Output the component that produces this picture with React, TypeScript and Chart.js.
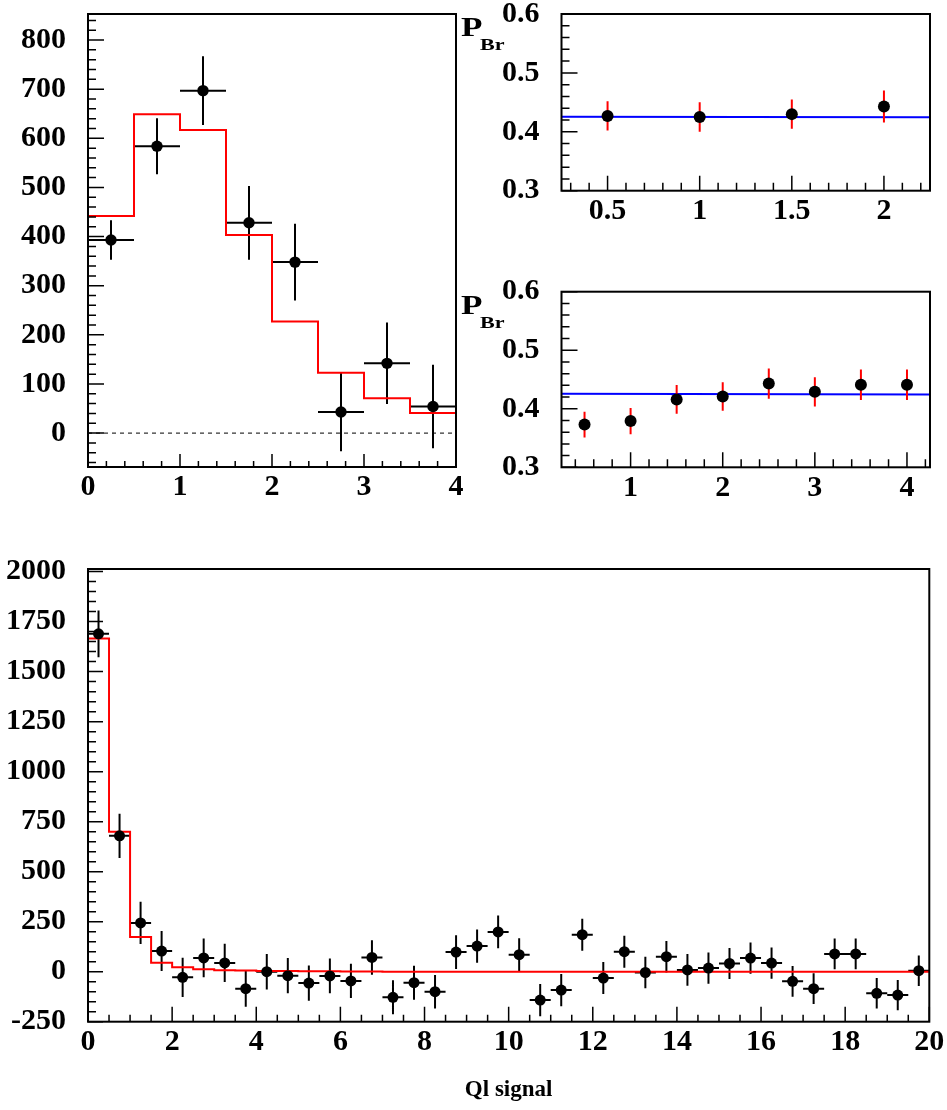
import React, { useEffect, useRef } from "react";
import { Chart, registerables } from "chart.js";

Chart.register(...registerables);

// ---------------- Top-left panel ----------------
const TL_CENTERS = [0.25, 0.75, 1.25, 1.75, 2.25, 2.75, 3.25, 3.75];
const TL_DATA = [393, 584, 697, 428, 348, 43, 142, 54];
const TL_ERR = [40, 57, 70, 75, 78, 80, 83, 85];
const TL_MODEL = [442, 649, 617, 403, 227, 123, 71, 41];
const TL_X_TICKS = [0, 1, 2, 3, 4];
const TL_Y_TICKS = [0, 100, 200, 300, 400, 500, 600, 700, 800];

// ---------------- Top-right panel 1 ----------------
const TR1_X = [0.5, 1, 1.5, 2];
const TR1_P = [0.427, 0.425, 0.43, 0.443];
const TR1_ERR = [0.025, 0.025, 0.025, 0.027];
const TR1_FIT_X = [0.25, 2.25];
const TR1_FIT_Y = [0.4255, 0.4245];
const TR1_X_TICKS = [0.5, 1, 1.5, 2];

// ---------------- Top-right panel 2 ----------------
const TR2_X = [0.5, 1, 1.5, 2, 2.5, 3, 3.5, 4];
const TR2_P = [0.373, 0.379, 0.416, 0.421, 0.443, 0.429, 0.441, 0.441];
const TR2_ERR = [0.022, 0.0225, 0.0245, 0.0245, 0.026, 0.025, 0.026, 0.026];
const TR2_FIT_X = [0.25, 4.25];
const TR2_FIT_Y = [0.4255, 0.4245];
const TR2_X_TICKS = [1, 2, 3, 4];
const TR_Y_TICKS = [0.3, 0.4, 0.5, 0.6];

// ---------------- Bottom panel ----------------
const B_CENTERS = [
  0.25, 0.75, 1.25, 1.75, 2.25, 2.75, 3.25, 3.75, 4.25, 4.75,
  5.25, 5.75, 6.25, 6.75, 7.25, 7.75, 8.25, 8.75, 9.25, 9.75,
  10.25, 10.75, 11.25, 11.75, 12.25, 12.75, 13.25, 13.75, 14.25, 14.75,
  15.25, 15.75, 16.25, 16.75, 17.25, 17.75, 18.25, 18.75, 19.25, 19.75,
];
const B_DATA = [
  1689, 679, 244, 103, -28, 69, 44, -85, 0, -20,
  -57, -21, -46, 71, -128, -55, -100, 98, 128, 199,
  85, -142, -92, 185, -32, 100, -4, 75, 9, 18,
  41, 68, 43, -48, -85, 89, 89, -108, -117, 5,
];
const B_ERR = [
  117, 111, 105, 100, 98, 97, 96, 90, 89, 88,
  88, 87, 86, 86, 85, 85, 84, 84, 83, 82,
  82, 81, 81, 80, 80, 80, 79, 79, 79, 78,
  78, 78, 78, 77, 77, 77, 77, 76, 76, 76,
];
const B_MODEL = [
  1666, 699, 174, 45, 22, 12, 7, 6, 4, 4,
  2, 2, 1, 1, 0, 0, 0, 0, 0, 0,
  0, 0, 0, 0, 0, 0, 0, 0, 0, 0,
  0, 0, 0, 0, 0, 0, 0, 0, 0, 0,
];
const B_X_TICKS = [0, 2, 4, 6, 8, 10, 12, 14, 16, 18, 20];
const B_Y_TICKS = [-250, 0, 250, 500, 750, 1000, 1250, 1500, 1750, 2000];

// ---------------- helpers ----------------
const FONT_FAMILY = '"Liberation Serif", "Times New Roman", Times, serif';
const RED = "#ff0000";
const BLUE = "#0000ff";

type Pt = { x: number; y: number | null };

function vErrPoints(xs: number[], ys: number[], es: number[]): Pt[] {
  const pts: Pt[] = [];
  xs.forEach((x, i) => {
    pts.push({ x, y: ys[i] - es[i] });
    pts.push({ x, y: ys[i] + es[i] });
    pts.push({ x, y: null });
  });
  return pts;
}

function hErrPoints(xs: number[], ys: number[], half: number): Pt[] {
  const pts: Pt[] = [];
  xs.forEach((x, i) => {
    pts.push({ x: x - half, y: ys[i] });
    pts.push({ x: x + half, y: ys[i] });
    pts.push({ x: x + half, y: null });
  });
  return pts;
}

function histPoints(centers: number[], vals: number[], half: number): Pt[] {
  const pts: Pt[] = [{ x: centers[0] - half, y: 0 }];
  centers.forEach((c, i) => {
    pts.push({ x: c - half, y: vals[i] });
    pts.push({ x: c + half, y: vals[i] });
  });
  pts.push({ x: centers[centers.length - 1] + half, y: 0 });
  return pts;
}

function markerPoints(xs: number[], ys: number[]): Pt[] {
  return xs.map((x, i) => ({ x, y: ys[i] }));
}

const lineDs = (data: Pt[], color: string, width: number, order: number, dash?: number[]) => ({
  data,
  borderColor: color,
  borderWidth: width,
  borderDash: dash || [],
  pointRadius: 0,
  pointHoverRadius: 0,
  fill: false,
  tension: 0,
  spanGaps: false,
  order,
});

const markerDs = (data: Pt[], r: number) => ({
  data,
  showLine: false,
  pointRadius: r,
  pointHoverRadius: r,
  pointBackgroundColor: "#000",
  pointBorderColor: "#000",
  pointBorderWidth: 0,
  order: 0,
});

// frame + inward ROOT-like ticks
const rootFrame = {
  id: "rootFrame",
  afterDatasetsDraw(chart: any, _args: any, opts: any) {
    const { ctx, chartArea: a, scales } = chart;
    const xs = scales.x;
    const ys = scales.y;
    ctx.save();
    ctx.strokeStyle = "#000";
    ctx.lineWidth = 1.5;
    ctx.beginPath();
    const drawTicks = (scale: any, step: number, len: number, horiz: boolean) => {
      const k0 = Math.ceil(scale.min / step - 1e-6);
      const k1 = Math.floor(scale.max / step + 1e-6);
      for (let k = k0; k <= k1; k++) {
        const p = scale.getPixelForValue(k * step);
        if (horiz) {
          ctx.moveTo(p, a.bottom);
          ctx.lineTo(p, a.bottom - len);
        } else {
          ctx.moveTo(a.left, p);
          ctx.lineTo(a.left + len, p);
        }
      }
    };
    drawTicks(xs, opts.xMinor, opts.xMinorLen, true);
    drawTicks(xs, opts.xMajor, opts.xMajorLen, true);
    drawTicks(ys, opts.yMinor, opts.yMinorLen, false);
    drawTicks(ys, opts.yMajor, opts.yMajorLen, false);
    ctx.stroke();
    ctx.lineWidth = 2;
    ctx.strokeRect(a.left, a.top, a.right - a.left, a.bottom - a.top);
    ctx.restore();
  },
};

type PanelCfg = {
  left: number;
  top: number;
  w: number;
  h: number;
  area: { l: number; t: number; r: number; b: number };
  padBottom: number;
  x: { min: number; max: number; ticks: number[]; major: number; minor: number; majorLen: number; minorLen: number };
  y: { min: number; max: number; ticks: number[]; major: number; minor: number; majorLen: number; minorLen: number };
  datasets: any[];
  title?: string;
  fontSize: number;
};

const tickFont = (size: number) => ({ family: FONT_FAMILY, size, weight: "bold" as const, lineHeight: 1.2 });

function buildConfig(c: PanelCfg): any {
  const yW = c.area.l - c.left;
  const xH = c.top + c.h - c.padBottom - c.area.b;
  return {
    type: "line",
    data: { datasets: c.datasets },
    options: {
      animation: false,
      responsive: false,
      maintainAspectRatio: false,
      events: [],
      layout: {
        padding: {
          left: 0,
          top: c.area.t - c.top,
          right: c.left + c.w - c.area.r,
          bottom: c.padBottom,
        },
      },
      plugins: {
        legend: { display: false },
        tooltip: { enabled: false },
        rootFrame: {
          xMajor: c.x.major,
          xMinor: c.x.minor,
          xMajorLen: c.x.majorLen,
          xMinorLen: c.x.minorLen,
          yMajor: c.y.major,
          yMinor: c.y.minor,
          yMajorLen: c.y.majorLen,
          yMinorLen: c.y.minorLen,
        },
      },
      scales: {
        x: {
          type: "linear",
          min: c.x.min,
          max: c.x.max,
          grid: { display: false, drawTicks: false },
          border: { display: false },
          afterBuildTicks: (s: any) => {
            s.ticks = c.x.ticks.map((v) => ({ value: v }));
          },
          afterFit: (s: any) => {
            s.height = xH;
            s.paddingLeft = 0;
            s.paddingRight = 0;
            s.paddingTop = 0;
            s.paddingBottom = 0;
          },
          ticks: {
            autoSkip: false,
            maxRotation: 0,
            minRotation: 0,
            padding: 2.5,
            color: "#000",
            font: tickFont(c.fontSize),
            callback: (v: number) => String(v),
          },
          title: c.title
            ? {
                display: true,
                text: c.title,
                color: "#000",
                padding: 0,
                font: { family: FONT_FAMILY, size: 23, weight: "bold", lineHeight: 1.2 },
              }
            : { display: false },
        },
        y: {
          type: "linear",
          min: c.y.min,
          max: c.y.max,
          grid: { display: false, drawTicks: false },
          border: { display: false },
          afterBuildTicks: (s: any) => {
            s.ticks = c.y.ticks.map((v) => ({ value: v }));
          },
          afterFit: (s: any) => {
            s.width = yW;
            s.paddingLeft = 0;
            s.paddingRight = 0;
            s.paddingTop = 0;
            s.paddingBottom = 0;
          },
          ticks: {
            autoSkip: false,
            padding: 22,
            color: "#000",
            font: tickFont(c.fontSize),
            callback: (v: number) => String(v),
          },
        },
      },
    },
    plugins: [rootFrame],
  };
}

function Panel({ cfg }: { cfg: PanelCfg }) {
  const ref = useRef<HTMLCanvasElement | null>(null);
  useEffect(() => {
    if (!ref.current) return;
    const chart = new Chart(ref.current, buildConfig(cfg));
    return () => chart.destroy();
  }, [cfg]);
  return (
    <canvas
      ref={ref}
      width={cfg.w}
      height={cfg.h}
      style={{ position: "absolute", left: cfg.left, top: cfg.top, width: cfg.w, height: cfg.h }}
    />
  );
}

// ---------------- panel configs ----------------
const TL_CFG: PanelCfg = {
  left: 0,
  top: 0,
  w: 470,
  h: 520,
  area: { l: 88, t: 14, r: 456, b: 467 },
  padBottom: 0,
  fontSize: 30,
  x: { min: 0, max: 4, ticks: TL_X_TICKS, major: 1, minor: 0.2, majorLen: 13, minorLen: 6 },
  y: { min: -69, max: 853, ticks: TL_Y_TICKS, major: 100, minor: 20, majorLen: 16, minorLen: 8 },
  datasets: [
    lineDs([{ x: 0, y: 0 }, { x: 4, y: 0 }], "#000", 1, 4, [4, 4]),
    lineDs(vErrPoints(TL_CENTERS, TL_DATA, TL_ERR), "#000", 2, 3),
    lineDs(hErrPoints(TL_CENTERS, TL_DATA, 0.25), "#000", 2, 3),
    lineDs(histPoints(TL_CENTERS, TL_MODEL, 0.25), RED, 2, 1),
    markerDs(markerPoints(TL_CENTERS, TL_DATA), 5.7),
  ],
};

const TR1_CFG: PanelCfg = {
  left: 470,
  top: 0,
  w: 477,
  h: 240,
  area: { l: 561.5, t: 14, r: 930, b: 190.7 },
  padBottom: 0,
  fontSize: 30,
  x: { min: 0.25, max: 2.25, ticks: TR1_X_TICKS, major: 0.5, minor: 0.1, majorLen: 15, minorLen: 8 },
  y: { min: 0.3, max: 0.6, ticks: TR_Y_TICKS, major: 0.1, minor: 0.02, majorLen: 16, minorLen: 8 },
  datasets: [
    lineDs(markerPoints(TR1_FIT_X, TR1_FIT_Y), BLUE, 2, 2),
    lineDs(vErrPoints(TR1_X, TR1_P, TR1_ERR), RED, 2, 1),
    markerDs(markerPoints(TR1_X, TR1_P), 6),
  ],
};

const TR2_CFG: PanelCfg = {
  left: 470,
  top: 250,
  w: 477,
  h: 270,
  area: { l: 561.5, t: 291.7, r: 930, b: 467.3 },
  padBottom: 0,
  fontSize: 30,
  x: { min: 0.25, max: 4.25, ticks: TR2_X_TICKS, major: 1, minor: 0.2, majorLen: 15, minorLen: 8 },
  y: { min: 0.3, max: 0.6, ticks: TR_Y_TICKS, major: 0.1, minor: 0.02, majorLen: 16, minorLen: 8 },
  datasets: [
    lineDs(markerPoints(TR2_FIT_X, TR2_FIT_Y), BLUE, 2, 2),
    lineDs(vErrPoints(TR2_X, TR2_P, TR2_ERR), RED, 2, 1),
    markerDs(markerPoints(TR2_X, TR2_P), 6),
  ],
};

const B_CFG: PanelCfg = {
  left: 0,
  top: 530,
  w: 947,
  h: 580,
  area: { l: 88, t: 569, r: 929.3, b: 1021.7 },
  padBottom: 5.9,
  fontSize: 30,
  title: "Ql signal",
  x: { min: 0, max: 20, ticks: B_X_TICKS, major: 2, minor: 0.5, majorLen: 15, minorLen: 7 },
  y: { min: -250, max: 2013, ticks: B_Y_TICKS, major: 250, minor: 50, majorLen: 15, minorLen: 8 },
  datasets: [
    lineDs(vErrPoints(B_CENTERS, B_DATA, B_ERR), "#000", 2, 3),
    lineDs(hErrPoints(B_CENTERS, B_DATA, 0.25), "#000", 2, 3),
    lineDs(histPoints(B_CENTERS, B_MODEL, 0.25), RED, 2, 1),
    markerDs(markerPoints(B_CENTERS, B_DATA), 5.5),
  ],
};

const labelStyle = (left: number, top: number, size: number, sx: number): React.CSSProperties => ({
  position: "absolute",
  left,
  top,
  fontFamily: FONT_FAMILY,
  fontWeight: "bold",
  fontSize: size,
  lineHeight: `${size}px`,
  color: "#000",
  whiteSpace: "nowrap",
  transform: `scaleX(${sx})`,
  transformOrigin: "left top",
});

export default function App() {
  return (
    <div
      style={{
        position: "absolute",
        left: 0,
        top: 0,
        width: 947,
        height: 1110,
        background: "#fff",
        overflow: "hidden",
      }}
    >
      <Panel cfg={TL_CFG} />
      <Panel cfg={TR1_CFG} />
      <Panel cfg={TR2_CFG} />
      <Panel cfg={B_CFG} />
      <span style={labelStyle(460.5, 14.4, 27, 1.3)}>P</span>
      <span style={labelStyle(480, 35.8, 17, 1.3)}>Br</span>
      <span style={labelStyle(460.5, 292.4, 27, 1.3)}>P</span>
      <span style={labelStyle(480, 314.1, 17, 1.3)}>Br</span>
    </div>
  );
}
